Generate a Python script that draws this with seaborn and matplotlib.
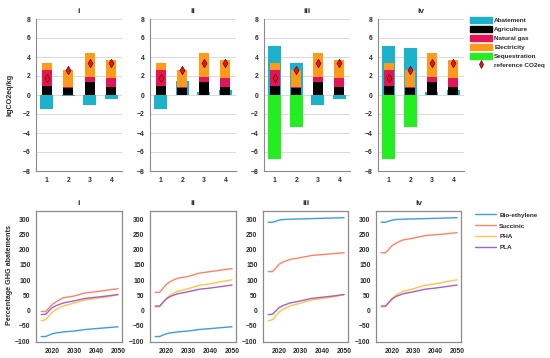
import numpy as np
import pandas as pd
import matplotlib
matplotlib.use("Agg")
import matplotlib.pyplot as plt
import seaborn as sns
from matplotlib.patches import Patch
from matplotlib.lines import Line2D

sns.set_theme(style="white")
plt.rcParams['font.family'] = ['Liberation Sans', 'DejaVu Sans']

# ---------------- data ----------------
panels = ["i", "ii", "iii", "iv"]
options = [1, 2, 3, 4]
agriculture = [1.0, 0.7, 1.35, 0.8]
natural_gas = [1.65, 0.1, 0.5, 0.95]
electricity = [0.7, 1.85, 2.55, 1.95]
reference_co2eq = [1.8, 2.6, 3.35, 3.35]
abatement = {
    "i": [-1.5, -0.1, -1.1, -0.45],
    "ii": [-1.5, 1.5, 0.35, 0.5],
    "iii": [5.2, 3.35, -1.1, -0.45],
    "iv": [5.2, 4.9, 0.35, 0.5],
}
sequestration = {
    "i": [0, 0, 0, 0],
    "ii": [0, 0, 0, 0],
    "iii": [-6.7, -3.4, 0, 0],
    "iv": [-6.7, -3.4, 0, 0],
}

years = [2015, 2017, 2020, 2022, 2025, 2030, 2035, 2040, 2045, 2050]
bio_ethylene = {
    "i": [-85, -85, -76, -73, -70, -67, -62, -59, -56, -53],
    "ii": [-85, -85, -76, -73, -70, -67, -62, -59, -56, -53],
    "iii": [290, 290, 297, 299, 300, 301, 302, 303, 304, 305],
    "iv": [290, 290, 297, 299, 300, 301, 302, 303, 304, 305],
}
succinic = {
    "i": [-3, -3, 20, 30, 42, 48, 58, 62, 67, 72],
    "ii": [60, 60, 86, 96, 106, 112, 123, 128, 133, 138],
    "iii": [128, 128, 152, 160, 168, 174, 181, 184, 187, 190],
    "iv": [190, 190, 213, 222, 232, 238, 246, 249, 252, 256],
}
pha = {
    "i": [-33, -30, -5, 5, 15, 25, 35, 40, 45, 52],
    "ii": [12, 13, 40, 52, 63, 72, 83, 88, 95, 101],
    "iii": [-33, -30, -5, 5, 15, 25, 35, 40, 45, 52],
    "iv": [12, 13, 40, 52, 63, 72, 83, 88, 95, 101],
}
pla = {
    "i": [-13, -12, 10, 17, 25, 32, 40, 44, 48, 53],
    "ii": [15, 15, 38, 47, 55, 62, 70, 74, 79, 84],
    "iii": [-13, -12, 10, 17, 25, 32, 40, 44, 48, 53],
    "iv": [15, 15, 38, 47, 55, 62, 70, 74, 79, 84],
}

# ---------------- style ----------------
C_ABAT = "#1AB3CB"
C_AGRI = "#000000"
C_NG = "#E4145A"
C_ELEC = "#FF9A1A"
C_SEQ = "#22EE22"
C_REF = "#E8141C"
line_colors = {"Bio-ethylene": "#3A9FDE", "Succinic": "#FF8363",
               "PHA": "#FFC445", "PLA": "#A760C4"}
SPINE = "#8a8a8a"
FS = 4.9
TXT = "#2a2a2a"

W, H = 550, 358
fig = plt.figure(figsize=(W / 100, H / 100), dpi=100)


def px_axes(x0, y0, x1, y1):
    return fig.add_axes([x0 / W, 1 - y1 / H, (x1 - x0) / W, (y1 - y0) / H])


top_left = [36, 150, 264, 378]
bot_left = [36, 150, 263, 376]

for k, p in enumerate(panels):
    ax = px_axes(top_left[k], 19, top_left[k] + 86, 171)
    cum1 = np.array(agriculture)
    cum2 = cum1 + np.array(natural_gas)
    cum3 = cum2 + np.array(electricity)
    common = dict(native_scale=True, errorbar=None, saturation=1,
                  linewidth=0, ax=ax)
    sns.barplot(x=options, y=abatement[p], width=0.6, color=C_ABAT, **common)
    if any(v != 0 for v in sequestration[p]):
        sns.barplot(x=options, y=sequestration[p], width=0.6, color=C_SEQ, **common)
    sns.barplot(x=options, y=list(cum3), width=0.46, color=C_ELEC, **common)
    sns.barplot(x=options, y=list(cum2), width=0.46, color=C_NG, **common)
    sns.barplot(x=options, y=list(cum1), width=0.46, color=C_AGRI, **common)
    sns.scatterplot(x=options, y=reference_co2eq, marker="d", s=18,
                    color=C_REF, edgecolor="#6a0000", linewidth=0.5,
                    zorder=5, ax=ax, legend=False)
    ax.set_xlim(0.5, 4.5)
    ax.set_ylim(-8, 8)
    ax.set_xticks(options)
    ax.set_xticklabels([str(o) for o in options])
    ax.set_yticks(range(-8, 9, 2))
    ax.yaxis.grid(True, color="#d9d9d9", linewidth=0.7)
    ax.set_axisbelow(True)
    for s in ["top", "right"]:
        ax.spines[s].set_visible(False)
    for s in ["left", "bottom"]:
        ax.spines[s].set_color(SPINE)
        ax.spines[s].set_linewidth(0.8)
    ax.tick_params(length=0, labelsize=FS, pad=4, colors=TXT)
    for t in ax.get_xticklabels() + ax.get_yticklabels():
        t.set_fontweight("bold")
    ax.set_xlabel("")
    ax.set_ylabel("")
    ax.set_title(p, fontsize=6, fontweight="bold", pad=4, color=TXT)

    # bottom row
    bx = px_axes(bot_left[k], 211, bot_left[k] + (86 if k < 2 else 85), 342)
    for name, data in [("Bio-ethylene", bio_ethylene), ("Succinic", succinic),
                       ("PHA", pha), ("PLA", pla)]:
        sns.lineplot(x=years, y=data[p], color=line_colors[name],
                     linewidth=1.0, ax=bx)
    bx.set_xlim(2012.6, 2051.8)
    bx.set_ylim(-103, 327)
    bx.set_xticks([2020, 2030, 2040, 2050])
    bx.set_yticks(range(-100, 301, 50))
    for s in ["left", "bottom", "right", "top"]:
        bx.spines[s].set_color(SPINE)
        bx.spines[s].set_linewidth(0.9)
    bx.spines["top"].set_linestyle((0, (1, 1)))
    bx.tick_params(length=0, labelsize=FS, pad=4, colors=TXT)
    for t in bx.get_xticklabels() + bx.get_yticklabels():
        t.set_fontweight("bold")
    bx.set_title(p, fontsize=6, fontweight="bold", pad=4, color=TXT)

fig.text(10 / W, 1 - 95 / H, "kgCO2eq/kg", rotation=90, ha="center",
         va="center", fontsize=5.2, fontweight="bold", color=TXT)
fig.text(10 / W, 1 - 275 / H, "Percentage GHG abatements", rotation=90,
         ha="center", va="center", fontsize=5.2, fontweight="bold", color=TXT)

# legends
LFS = 4.6
bar_handles = [Patch(color=C_ABAT, label="Abatement"),
               Patch(color=C_AGRI, label="Agriculture"),
               Patch(color=C_NG, label="Natural gas"),
               Patch(color=C_ELEC, label="Electricity"),
               Patch(color=C_SEQ, label="Sequestration"),
               Line2D([], [], marker="d", linestyle="none", markersize=4,
                      markerfacecolor=C_REF, markeredgecolor="#6a0000",
                      markeredgewidth=0.5, label="reference CO2eq")]
leg1 = fig.legend(handles=bar_handles, loc="upper left",
                  bbox_to_anchor=(467 / W, 1 - 14 / H), frameon=False,
                  handlelength=3.4, handleheight=1.1,
                  labelspacing=0.42, handletextpad=0.35, borderpad=0,
                  prop={"weight": "bold", "size": LFS})
for t in leg1.get_texts():
    t.set_color(TXT)

line_handles = [Line2D([], [], color=c, linewidth=1.0, label=n)
                for n, c in line_colors.items()]
leg2 = fig.legend(handles=line_handles, loc="upper left",
                  bbox_to_anchor=(472 / W, 1 - 209 / H), frameon=False,
                  handlelength=3.3, labelspacing=0.85, handletextpad=0.45,
                  borderpad=0, prop={"weight": "bold", "size": LFS})
for t in leg2.get_texts():
    t.set_color(TXT)

fig.savefig("out.png", dpi=100)
